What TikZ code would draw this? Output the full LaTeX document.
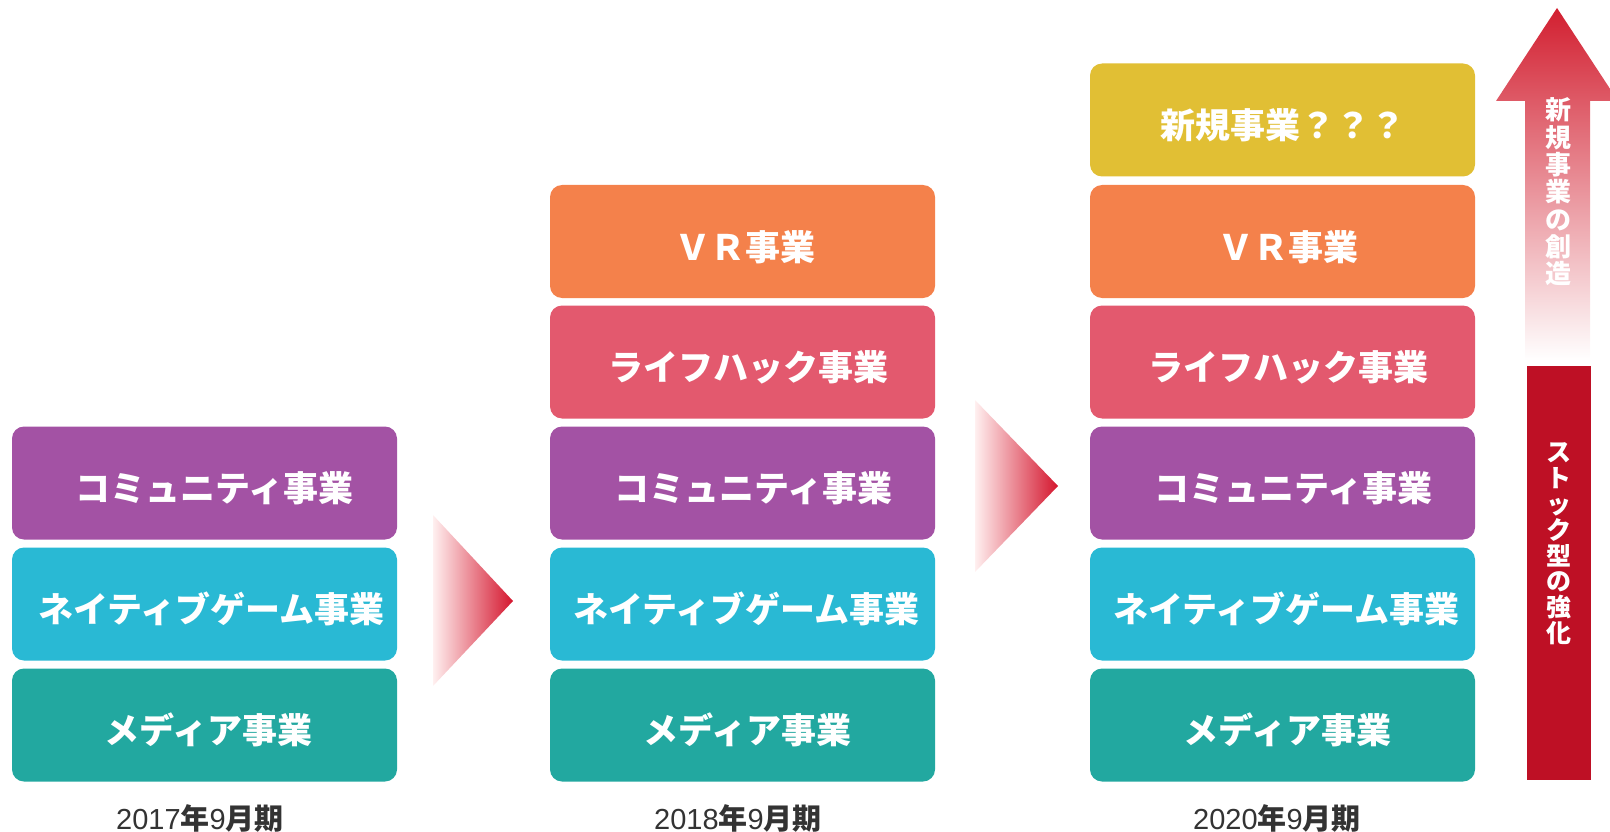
\documentclass[tikz,border=0pt]{standalone}
\usepackage{fontspec}
\setmainfont{Liberation Sans}
\newfontfamily\jp{Noto Sans CJK JP}
\definecolor{cpurple}{HTML}{A352A4}
\definecolor{ccyan}{HTML}{29B9D4}
\definecolor{cteal}{HTML}{22A8A0}
\definecolor{cpink}{HTML}{E3596E}
\definecolor{corange}{HTML}{F4814B}
\definecolor{cyellow}{HTML}{E1BF34}
\definecolor{cbar}{HTML}{BE1025}
\definecolor{carrow}{HTML}{D21F30}
\definecolor{carrowmid}{HTML}{E04A54}
\definecolor{ctri}{HTML}{D4162E}
\definecolor{clabel}{HTML}{333333}
\tikzset{
  biz/.style={rounded corners=12pt, inner sep=0pt, minimum width=385pt, minimum height=113pt,
    text height=37pt, text depth=0pt,
    text=white, font=\jp\bfseries\fontsize{35}{40}\selectfont},
  yearlbl/.style={inner sep=0pt, text=clabel, font=\fontsize{29}{34}\selectfont},
  vtext/.style={inner sep=0pt, text=white, align=center},
  tri/.style={left color=red!6, right color=ctri}
}
\newcommand{\jb}[1]{{\jp\bfseries #1}}
\begin{document}
\begin{tikzpicture}[x=1pt,y=-1pt]
\useasboundingbox (0,0) rectangle (1610,832);
% column 1 (2017)
\node[biz, fill=cpurple] (a3) at (204.5,483) {\hspace*{20pt}コミュニティ事業};
\node[biz, fill=ccyan]   (a2) at (204.5,604) {\hspace*{14pt}ネイティブゲーム事業};
\node[biz, fill=cteal]   (a1) at (204.5,725) {\hspace*{8pt}メディア事業};
\node[yearlbl] (y1) at (200,818) {2017\jb{年}9\jb{月期}};
% column 2 (2018)
\node[biz, fill=corange] (b5) at (742.5,241.5) {\hspace*{6pt}ＶＲ事業};
\node[biz, fill=cpink]   (b4) at (742.5,362) {\hspace*{12pt}ライフハック事業};
\node[biz, fill=cpurple] (b3) at (742.5,483) {\hspace*{22pt}コミュニティ事業};
\node[biz, fill=ccyan]   (b2) at (742.5,604) {\hspace*{8pt}ネイティブゲーム事業};
\node[biz, fill=cteal]   (b1) at (742.5,725) {\hspace*{10pt}メディア事業};
\node[yearlbl] (y2) at (738,818) {2018\jb{年}9\jb{月期}};
% column 3 (2020)
\node[biz, fill=cyellow] (c6) at (1282.5,120) {新規事業？？？};
\node[biz, fill=corange] (c5) at (1282.5,241.5) {\hspace*{12pt}ＶＲ事業};
\node[biz, fill=cpink]   (c4) at (1282.5,362) {\hspace*{12pt}ライフハック事業};
\node[biz, fill=cpurple] (c3) at (1282.5,483) {\hspace*{22pt}コミュニティ事業};
\node[biz, fill=ccyan]   (c2) at (1282.5,604) {\hspace*{8pt}ネイティブゲーム事業};
\node[biz, fill=cteal]   (c1) at (1282.5,725) {\hspace*{10pt}メディア事業};
\node[yearlbl] (y3) at (1277,818) {2020\jb{年}9\jb{月期}};
% transition triangles
\shade[tri] (433,515) -- (513,601) -- (433,686) -- cycle;
\shade[tri] (975,400) -- (1058,486) -- (975,572) -- cycle;
% upward arrow
\shade[top color=carrow, middle color=carrowmid, bottom color=white]
  (1557,8) -- (1618,101) -- (1590,101) -- (1590,360) -- (1525,360) -- (1525,101) -- (1496,101) -- cycle;
\node[vtext, font=\jp\bfseries\fontsize{26}{27.3}\selectfont] (t1) at (1558,192)
  {新\\規\\事\\業\\の\\創\\造};
% stock bar
\node[fill=cbar, inner sep=0pt, minimum width=64pt, minimum height=414pt] (bar) at (1559,573) {};
\node[vtext, font=\jp\bfseries\fontsize{25}{25.8}\selectfont] (t2) at (1559,544)
  {ス\\ト\\ッ\\ク\\型\\の\\強\\化};
\end{tikzpicture}
\end{document}
